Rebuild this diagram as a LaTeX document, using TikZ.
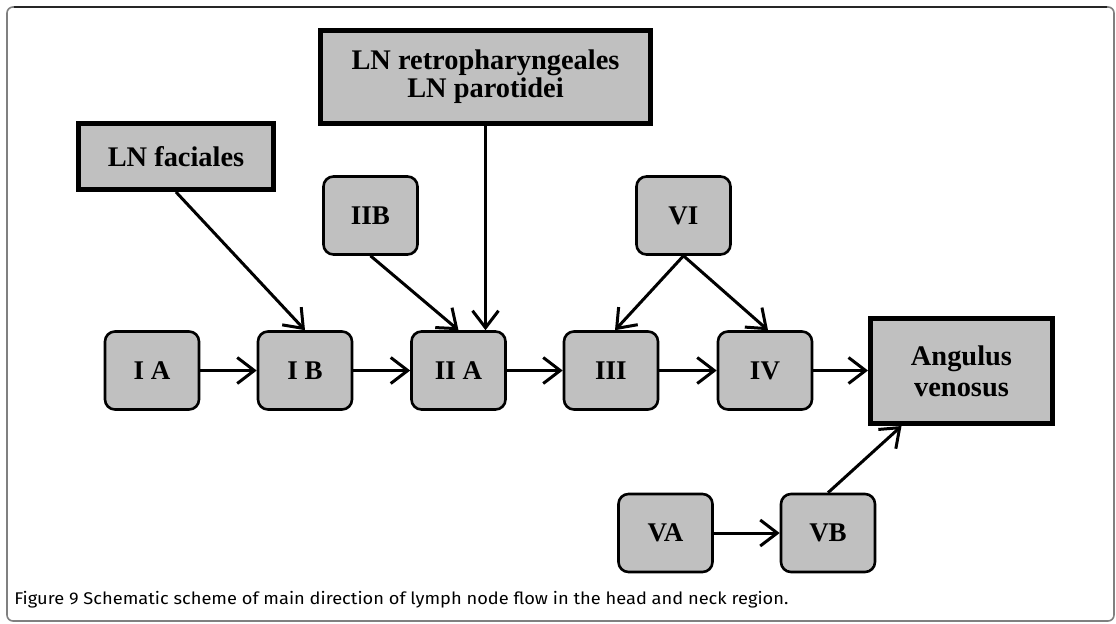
\documentclass[tikz,border=0pt]{standalone}
\usepackage{fontspec}
\setmainfont{Liberation Serif}
\newfontfamily\capfont{Fira Sans}
\usetikzlibrary{arrows.meta,positioning,calc}

\definecolor{boxgray}{HTML}{C0C0C0}

\begin{document}
\begin{tikzpicture}[x=0.5pt, y=-0.5pt,
    every node/.style={font=\fontsize{13.5}{15.5}\selectfont\bfseries},
    lvl/.style={draw, line width=1.3pt, fill=boxgray, rounded corners=5pt,
      minimum width=47pt, minimum height=39pt, inner sep=0pt},
    grp/.style={draw, line width=2.5pt, fill=boxgray, align=center, inner sep=0pt,
      font=\fontsize{14.2}{14}\selectfont\bfseries},
    flow/.style={line width=1.5pt, -{Straight Barb[length=8.5pt,width=13pt]}}]
  \useasboundingbox (0,0) rectangle (1116,623);

  %% Frame round the figure
  \draw[gray, line width=0.8pt, rounded corners=3pt] (7,7) rectangle (1114,621);
  \draw[black!85, line width=1pt] (14,7) -- (1107,7);

  %% Groups of lymph nodes
  \node[grp, minimum width=97.5pt, minimum height=33pt] (fac) at (176,156.5) {LN faciales};
  \node[grp, minimum width=165pt, minimum height=46.5pt] (retro) at (485.5,77)
    {LN retropharyngeales\\LN parotidei};
  \node[grp, minimum width=91pt, minimum height=52.5pt,
    font=\fontsize{14.2}{15.5}\selectfont\bfseries] (ang) at (961.5,371)
    {Angulus\\venosus};

  %% Levels: main row, upper row, lower row
  \foreach \nm/\xx/\lab in {ia/152/I A, ib/305/I B, iia/458.5/II A, iii/611/III, iv/765/IV} {
    \node[lvl] (\nm) at (\xx,370.5) {\lab};
  }
  \node[lvl] (iib) at (370.5,215.5) {IIB};
  \node[lvl] (vi) at (683.5,215.5) {VI};
  \node[lvl] (va) at (665.5,533) {VA};
  \node[lvl] (vb) at (828,533) {VB};

  %% Main flow along the row
  \foreach \a/\b in {ia/ib, ib/iia, iia/iii, iii/iv} {
    \draw[flow] (\a) -- (\b);
  }
  \draw[flow] (iv.east) -- (iv.east -| ang.west);

  %% Inflow from above
  \draw[flow] (fac.south) -- (ib.north);
  \draw[flow] (iib.south) -- (iia.north);
  \draw[flow] (retro.south) -- (retro.south |- iia.north);
  \draw[flow] (vi.south) -- ([xshift=2pt]iii.north);
  \draw[flow] (vi.south) -- ([xshift=1.5pt]iv.north);

  %% Lower branch
  \draw[flow] (va) -- (vb);
  \draw[flow] (vb.north) -- ($(ang.south)+(-60,0)$);

  %% Caption
  \node[anchor=base west, font=\capfont, inner sep=0pt] (cap) at (14,604)
    {\resizebox{387pt}{6.6pt}{Figure 9 Schematic scheme of main direction of lymph node flow in the head and neck region.}};
\end{tikzpicture}
\end{document}
